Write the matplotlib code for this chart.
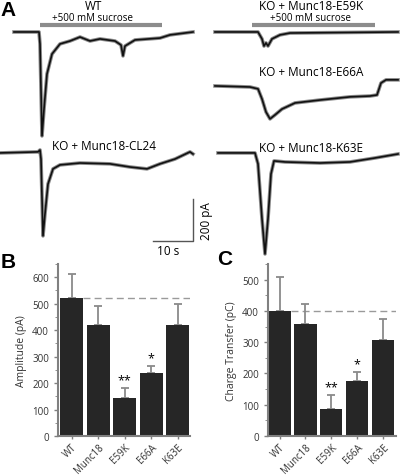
import matplotlib.pyplot as plt
import numpy as np

plt.rcParams['font.family'] = ['Open Sans', 'DejaVu Sans']

# ---- panel A traces: time (s) and current (pA), baseline = 0
wt_t = [0, 6.25, 6.5, 7.0, 7.5, 8.25, 9.5, 11.5, 14, 16.5, 19, 21.5, 25.25, 26.75, 27.25, 27.75, 30.25, 36.5, 39, 44.75]
wt_i = [0, 0, -57, -495, -367, -200, -105, -57, -43, -24, -43, -33, -43, -62, -114, -67, -38, -29, -14, 0]

cl24_t = [0, 9.5, 10, 10.25, 10.75, 11.25, 12, 13.25, 15, 20, 27.5, 32.5, 36.75, 40, 43.75, 47.5, 48.25]
cl24_i = [0, 5, 14, -29, -395, -290, -148, -76, -57, -48, -52, -67, -76, -52, -29, 5, -5]

e59k_t = [0, 10.75, 11.75, 12.25, 12.75, 13.25, 14.25, 16.25, 18.75, 45.75]
e59k_i = [0, 0, -33, -67, -52, -67, -33, -14, -5, 0]

e66a_t = [0, 8.75, 10.75, 11.75, 12.75, 13.75, 15, 16.75, 20, 26.25, 33.75, 38.75, 40.5, 41.5, 42.75, 45.75]
e66a_i = [0, -5, -14, -62, -124, -157, -138, -110, -81, -67, -52, -48, -43, 14, 29, 29]

k63e_t = [0, 9.25, 10, 11, 11.75, 12.5, 13.25, 14, 16.75, 25.5, 33, 39.25, 45]
k63e_i = [0, 0, -52, -314, -481, -314, -100, -38, -43, -48, -43, -24, -5]

# ---- panels B and C
groups = ['WT', 'Munc18', 'E59K', 'E66A', 'K63E']
amp = [520, 420, 143, 238, 420]
amp_err = [92, 72, 39, 27, 77]
charge = [400, 357, 87, 176, 307]
charge_err = [110, 65, 45, 29, 66]
amp_stars = ['', '', '**', '*', '']
charge_stars = ['', '', '**', '*', '']

W, H = 400, 477
fig = plt.figure(figsize=(W / 100, H / 100), dpi=100)


def fx(px):
    return px / W


def fy(py):
    return 1 - py / H


# panel A: one axes over the figure, 4 px per s, 0.21 px per pA
ax = fig.add_axes([0, 0, 1, 1])
ax.set_xlim(0, W / 4)
ax.set_ylim(-H / 0.21, 0)
ax.axis('off')

for t, i, x0, y0 in [(wt_t, wt_i, 3.5, -157), (cl24_t, cl24_i, 0, -733),
                     (e59k_t, e59k_i, 53.75, -157), (e66a_t, e66a_i, 53.75, -414),
                     (k63e_t, k63e_i, 54.5, -733)]:
    xs = np.array(t) + x0
    ys = np.array(i) + y0
    # grey band for the noise, dark core on top
    ax.plot(xs, ys, color='#6e6e6e', lw=2.6, solid_joinstyle='round', alpha=0.8)
    ax.plot(xs, ys, color='#111111', lw=1.2, solid_joinstyle='round')

# sucrose bars
ax.plot([10, 40.5], [-126, -126], color='#8c8c8c', lw=3, solid_capstyle='butt')
ax.plot([63, 93.75], [-126, -126], color='#8c8c8c', lw=3, solid_capstyle='butt')
# scale bar
ax.plot([48.25, 48.25, 38.25], [-952, -1152, -1152], color='#555555', lw=1)

fs = 8.5
fig.text(fx(94), fy(6.5), 'WT', ha='center', va='center', fontsize=fs)
fig.text(fx(93), fy(18.5), '+500 mM sucrose', ha='center', va='center', fontsize=7)
fig.text(fx(311), fy(6.5), 'KO + Munc18-E59K', ha='center', va='center', fontsize=fs)
fig.text(fx(310), fy(18.5), '+500 mM sucrose', ha='center', va='center', fontsize=7)
fig.text(fx(311), fy(73), 'KO + Munc18-E66A', ha='center', va='center', fontsize=fs)
fig.text(fx(104), fy(147), 'KO + Munc18-CL24', ha='center', va='center', fontsize=fs)
fig.text(fx(311), fy(148), 'KO + Munc18-K63E', ha='center', va='center', fontsize=fs)
fig.text(fx(207), fy(221), '200 pA', ha='center', va='center', fontsize=fs, rotation=90)
fig.text(fx(168), fy(252), '10 s', ha='center', va='center', fontsize=fs)

lab = dict(fontsize=15, fontweight='bold', family='Liberation Sans', ha='center', va='center')
fig.text(fx(8), fy(10), 'A', **lab)
fig.text(fx(8), fy(262), 'B', **lab)
fig.text(fx(225), fy(260), 'C', **lab)


def bar_panel(rect, vals, errs, stars, ymax, ylabel, xlim, star_y):
    a = fig.add_axes(rect)
    a.set_facecolor('none')
    x = np.arange(len(groups))
    a.bar(x, vals, width=0.86, color='#262626', zorder=2)
    a.errorbar(x, vals, yerr=[np.zeros(len(vals)), errs], fmt='none',
               ecolor='#8a8a8a', elinewidth=1.3, capsize=3, capthick=1.3, zorder=1)
    a.plot([0.43, xlim[1]], [vals[0], vals[0]], color='#9a9a9a', lw=1,
           dashes=(5, 3), zorder=0)
    for xi, s, v, e in zip(x, stars, vals, errs):
        if s:
            a.text(xi, v + e + star_y, s, ha='center', va='center', fontsize=9)
    a.set_xlim(*xlim)
    a.set_ylim(0, ymax)
    for sp in ['top', 'right']:
        a.spines[sp].set_visible(False)
    for sp in ['left', 'bottom']:
        a.spines[sp].set_color('#808080')
        a.spines[sp].set_linewidth(1.5)
    a.set_xticks(x)
    a.set_xticklabels(groups, rotation=45, ha='right', rotation_mode='anchor', fontsize=7)
    a.tick_params(axis='both', colors='#808080', labelcolor='#333333', length=3,
                  width=1, labelsize=7)
    a.tick_params(axis='x', length=2, pad=2)
    a.set_ylabel(ylabel, fontsize=7.5, color='#333333')
    return a


axb = bar_panel([fx(58), fy(437), fx(190) - fx(58), fy(265) - fy(437)], amp, amp_err,
                amp_stars, 650, 'Amplitude (pA)', (-0.52, 4.46), 30)
axb.set_yticks(np.arange(0, 601, 100))
axb.set_yticks(np.arange(50, 651, 100), minor=True)
axb.tick_params(axis='y', which='minor', length=2, color='#808080')

axc = bar_panel([fx(268), fy(437), fx(396) - fx(268), fy(265) - fy(437)], charge, charge_err,
                charge_stars, 550, 'Charge Transfer (pC)', (-0.45, 4.5), 25)
axc.set_yticks(np.arange(0, 501, 100))
axc.set_yticks(np.arange(50, 551, 100), minor=True)
axc.tick_params(axis='y', which='minor', length=2, color='#808080')

fig.savefig('out.png', dpi=100)
